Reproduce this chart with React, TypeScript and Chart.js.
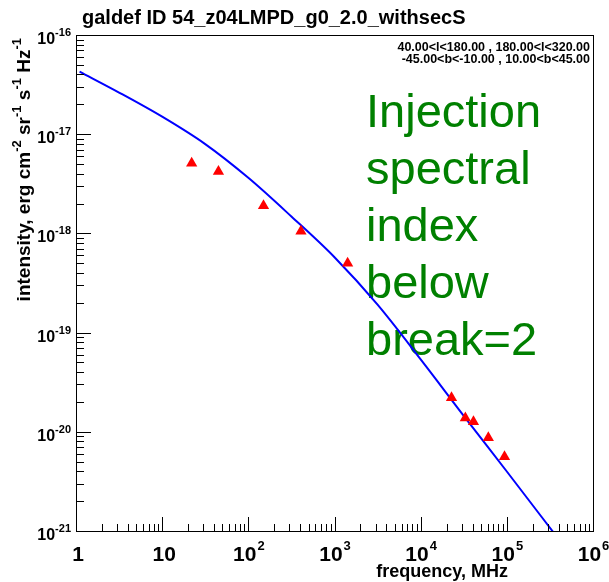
import React, { useEffect, useRef } from 'react';
import { Chart, registerables } from 'chart.js';

Chart.register(...registerables);

// ---- data ----
const curveFreq = [1.1, 3.16, 10, 31.6, 100, 316, 1000, 3160, 10000, 31600, 100000, 398000];
const curveIntensity = [4.27e-17, 2.63e-17, 1.5e-17, 7.94e-18, 3.63e-18, 1.48e-18, 5.75e-19, 1.91e-19, 5.37e-20, 1.45e-20, 3.98e-21, 8.3e-22];
const dataFreq = [22, 45, 150, 408, 1420, 22800, 33000, 41000, 61000, 94000];
const dataIntensity = [5.1e-18, 4.2e-18, 1.9e-18, 1.05e-18, 5.0e-19, 2.2e-20, 1.38e-20, 1.26e-20, 8.7e-21, 5.6e-21];
const xTickExponents = [0, 1, 2, 3, 4, 5, 6];
const yTickExponents = [-16, -17, -18, -19, -20, -21];
const titleText = 'galdef ID 54_z04LMPD_g0_2.0_withsecS';
const regionLines = ['40.00<l<180.00 , 180.00<l<320.00', '-45.00<b<-10.00 , 10.00<b<45.00'];
const annotationLines = ['Injection', 'spectral', 'index', 'below', 'break=2'];
const xTitle = 'frequency, MHz';
const yTitleParts: [string, boolean][] = [
  ['intensity, erg cm', false], ['-2', true], [' sr', false], ['-1', true],
  [' s', false], ['-1', true], [' Hz', false], ['-1', true],
];

const FONT = '"Liberation Sans", Arial, Helvetica, sans-serif';

const rootPlugin = {
  id: 'rootDecor',
  beforeDatasetsDraw(chart: any) {
    const ctx = chart.ctx;
    ctx.save();
    ctx.fillStyle = 'rgb(0,128,0)';
    ctx.font = `47px ${FONT}`;
    ctx.textAlign = 'left';
    ctx.textBaseline = 'alphabetic';
    annotationLines.forEach((t, i) => {
      ctx.fillText(t, 366, 127 + i * 57);
    });
    ctx.restore();
  },
  afterDraw(chart: any) {
    const ctx = chart.ctx;
    const a = chart.chartArea;
    const xs = chart.scales.x;
    const ys = chart.scales.y;
    ctx.save();
    ctx.strokeStyle = '#000';
    ctx.lineWidth = 1;
    ctx.strokeRect(Math.round(a.left) + 0.5, Math.round(a.top) + 0.5, Math.round(a.right - a.left), Math.round(a.bottom - a.top));

    // x ticks
    ctx.beginPath();
    for (let d = 0; d <= 6; d++) {
      for (let m = 1; m <= 9; m++) {
        const v = m * Math.pow(10, d);
        if (v > 1e6) break;
        const px = Math.round(xs.getPixelForValue(v)) + 0.5;
        const len = m === 1 ? 14 : 7;
        ctx.moveTo(px, a.bottom);
        ctx.lineTo(px, a.bottom - len);
      }
    }
    // y ticks
    for (let d = -21; d <= -16; d++) {
      for (let m = 1; m <= 9; m++) {
        const v = m * Math.pow(10, d);
        if (v > 1.0000001e-16) break;
        const py = Math.round(ys.getPixelForValue(v)) + 0.5;
        const len = m === 1 ? 15 : 8;
        ctx.moveTo(a.left, py);
        ctx.lineTo(a.left + len, py);
      }
    }
    ctx.stroke();

    ctx.fillStyle = '#000';
    // x tick labels
    xTickExponents.forEach((e) => {
      const px = xs.getPixelForValue(Math.pow(10, e));
      const baseY = 561;
      ctx.textBaseline = 'alphabetic';
      ctx.font = `bold 21px ${FONT}`;
      if (e === 0 || e === 1) {
        ctx.textAlign = 'center';
        ctx.fillText(e === 0 ? '1' : '10', px + 2, baseY);
      } else {
        const w1 = ctx.measureText('10').width;
        ctx.font = `bold 13px ${FONT}`;
        const w2 = ctx.measureText(String(e)).width;
        const start = px - (w1 + w2) / 2;
        ctx.textAlign = 'left';
        ctx.font = `bold 21px ${FONT}`;
        ctx.fillText('10', start, baseY);
        ctx.font = `bold 13px ${FONT}`;
        ctx.fillText(String(e), start + w1 + 1, baseY - 11);
      }
    });

    // y tick labels
    yTickExponents.forEach((e) => {
      const py = ys.getPixelForValue(Math.pow(10, e));
      ctx.textBaseline = 'alphabetic';
      ctx.font = `bold 11px ${FONT}`;
      const w2 = ctx.measureText(String(e)).width;
      ctx.font = `bold 16px ${FONT}`;
      const w1 = ctx.measureText('10').width;
      const right = 71;
      ctx.textAlign = 'left';
      ctx.fillText('10', right - w2 - w1, py + 9);
      ctx.font = `bold 11px ${FONT}`;
      ctx.fillText(String(e), right - w2, py + 1);
    });

    // title
    ctx.font = `bold 20px ${FONT}`;
    ctx.textAlign = 'left';
    ctx.fillText(titleText, 82, 24);

    // region text
    ctx.font = `bold 12.5px ${FONT}`;
    ctx.textAlign = 'right';
    ctx.fillText(regionLines[0], 590, 51);
    ctx.fillText(regionLines[1], 590, 63);

    // x title
    ctx.font = `bold 18px ${FONT}`;
    ctx.textAlign = 'right';
    ctx.fillText(xTitle, 508, 577);

    // y title (rotated)
    const bigF = `bold 19px ${FONT}`;
    const supF = `bold 13px ${FONT}`;
    let total = 0;
    yTitleParts.forEach(([t, sup]) => {
      ctx.font = sup ? supF : bigF;
      total += ctx.measureText(t).width;
    });
    ctx.save();
    ctx.translate(30, 38 + total);
    ctx.rotate(-Math.PI / 2);
    ctx.textAlign = 'left';
    let x = 0;
    yTitleParts.forEach(([t, sup]) => {
      ctx.font = sup ? supF : bigF;
      ctx.fillText(t, x, sup ? -9 : 0);
      x += ctx.measureText(t).width;
    });
    ctx.restore();
    ctx.restore();
  },
};

export default function App() {
  const ref = useRef<HTMLCanvasElement | null>(null);
  useEffect(() => {
    if (!ref.current) return;
    const chart = new Chart(ref.current, {
      type: 'scatter',
      data: {
        datasets: [
          {
            label: 'data',
            data: dataFreq.map((f, i) => ({ x: f, y: dataIntensity[i] })),
            pointStyle: 'triangle',
            pointRadius: 6.5,
            pointBackgroundColor: '#ff0000',
            pointBorderWidth: 0,
            showLine: false,
            order: 0,
          },
          {
            label: 'model',
            data: curveFreq.map((f, i) => ({ x: f, y: curveIntensity[i] })),
            showLine: true,
            borderColor: '#0000ff',
            borderWidth: 2,
            pointRadius: 0,
            cubicInterpolationMode: 'monotone',
            order: 1,
          },
        ],
      },
      options: {
        animation: false,
        responsive: true,
        maintainAspectRatio: false,
        layout: { padding: { top: 35, right: 16, left: 0, bottom: 0 } },
        plugins: { legend: { display: false }, tooltip: { enabled: false }, title: { display: false } },
        scales: {
          x: {
            type: 'logarithmic',
            min: 1,
            max: 1e6,
            grid: { display: false },
            border: { display: false },
            ticks: { display: false },
            afterFit: (s: any) => { s.height = 51; },
          },
          y: {
            type: 'logarithmic',
            min: 1e-21,
            max: 1e-16,
            grid: { display: false },
            border: { display: false },
            ticks: { display: false },
            afterFit: (s: any) => { s.width = 76; },
          },
        },
      },
      plugins: [rootPlugin],
    } as any);
    return () => chart.destroy();
  }, []);
  return (
    <div style={{ position: 'fixed', left: 0, top: 0, width: 609, height: 582, background: '#fff' }}>
      <canvas ref={ref} />
    </div>
  );
}
